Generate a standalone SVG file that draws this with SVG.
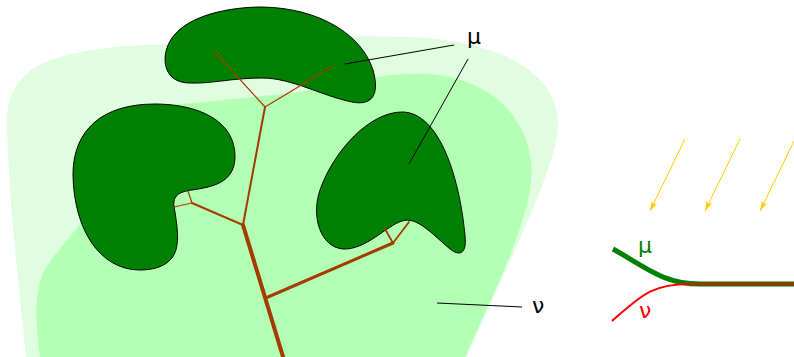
<svg xmlns="http://www.w3.org/2000/svg" width="794" height="357" viewBox="0 0 794 357">
<defs>
<marker id="ah" viewBox="0 0 10 6" refX="10" refY="3" markerWidth="10" markerHeight="6" markerUnits="userSpaceOnUse" orient="auto">
<path d="M0,0 L10,3 L0,6 L2.5,3 Z" fill="#ffcc00"/>
</marker>
</defs>
<style>
.blob{fill:#008000;stroke:#000;stroke-width:1}
.br{stroke:#a33c00;fill:none;stroke-linecap:round}
.lead{stroke:#000;stroke-width:1;fill:none}
.lbl{font-family:"DejaVu Sans","Liberation Sans",sans-serif;font-size:22px}
.sun{stroke:#ffcc00;stroke-width:1;fill:none;marker-end:url(#ah)}
</style>
<g id="region-outer"><path d="M 26,357 C 18,280 8,190 7,125 C 6,60 60,48 170,44 C 260,40 330,34 410,37 C 520,42 565,85 557,135 C 550,185 490,300 467,357 Z" fill="#e0fde0"/></g>
<g id="region-inner"><path d="M 40,357 C 35,320 35,295 42,275 C 55,250 75,235 85,215 L 120,110 C 180,104 230,100 300,92 C 360,80 390,72 430,74 C 500,80 540,130 530,190 C 520,245 485,310 465,357 Z" fill="#b3ffb3"/></g>
<g id="blob-top"><path class="blob" d="M 190,83 C 162,83 160,55 172,38 C 188,15 230,7 262,7 C 320,8 362,35 373,70 C 380,95 372,106 352,102 C 322,96 292,78 262,78 C 232,78 210,84 190,83 Z"/></g>
<g id="blob-left"><path class="blob" d="M 155,104 C 197,104 236,120 235,158 C 234,183 212,187 192,190 C 178,192 173,196 174,206 C 177,225 181,246 172,258 C 164,268 150,270 140,270 C 100,270 74,230 73,175 C 73,130 102,104 155,104 Z"/></g>
<g id="blob-right"><path class="blob" d="M 402,112 C 440,112 460,180 465,236 C 467,255 459,256 450,249 C 432,234 417,216 402,221 C 386,226 366,250 343,249 C 320,247 311,216 320,190 C 334,150 370,112 402,112 Z"/></g>
<g id="tree">
<line class="br" x1="243" y1="225" x2="284" y2="360" stroke-width="4"/>
<line class="br" x1="268" y1="297" x2="393" y2="243" stroke-width="3"/>
<line class="br" x1="393" y1="243" x2="385" y2="229" stroke-width="1.8"/>
<line class="br" x1="393" y1="243" x2="409" y2="222" stroke-width="1.8"/>
<line class="br" x1="243" y1="225" x2="265" y2="107" stroke-width="2"/>
<line class="br" x1="243" y1="225" x2="192" y2="203" stroke-width="2"/>
<line class="br" x1="192" y1="203" x2="188" y2="191" stroke-width="1.2"/>
<line class="br" x1="192" y1="203" x2="174" y2="207" stroke-width="1.2"/>
<line class="br" x1="265" y1="107" x2="215" y2="52" stroke-width="1.2"/>
<line class="br" x1="265" y1="107" x2="333" y2="66" stroke-width="1.2"/>
</g>
<g id="connectors">
<line class="lead" x1="345" y1="64" x2="454" y2="45"/>
<line class="lead" x1="468" y1="59" x2="409" y2="164"/>
<line class="lead" x1="437" y1="303" x2="522" y2="307"/>
<line class="sun" x1="685" y1="139" x2="650" y2="211"/>
<line class="sun" x1="740" y1="139" x2="705" y2="211"/>
<line class="sun" x1="795" y1="139" x2="760" y2="211"/>
</g>
<g id="labels">
<text class="lbl" x="467" y="44">μ</text>
<text class="lbl" x="532" y="313">ν</text>
</g>
<g id="curves">
<path d="M 613,249 C 650,270 665,284 700,284 L 794,284" stroke="#008000" stroke-width="5" fill="none"/>
<path d="M 612,321 C 640,297 650,284 690,284 L 794,284" stroke="#ff0000" stroke-width="2" fill="none"/>
<text class="lbl" x="638" y="253" fill="#008000">μ</text>
<text class="lbl" x="639" y="318" fill="#ff0000">ν</text>
</g>
</svg>
